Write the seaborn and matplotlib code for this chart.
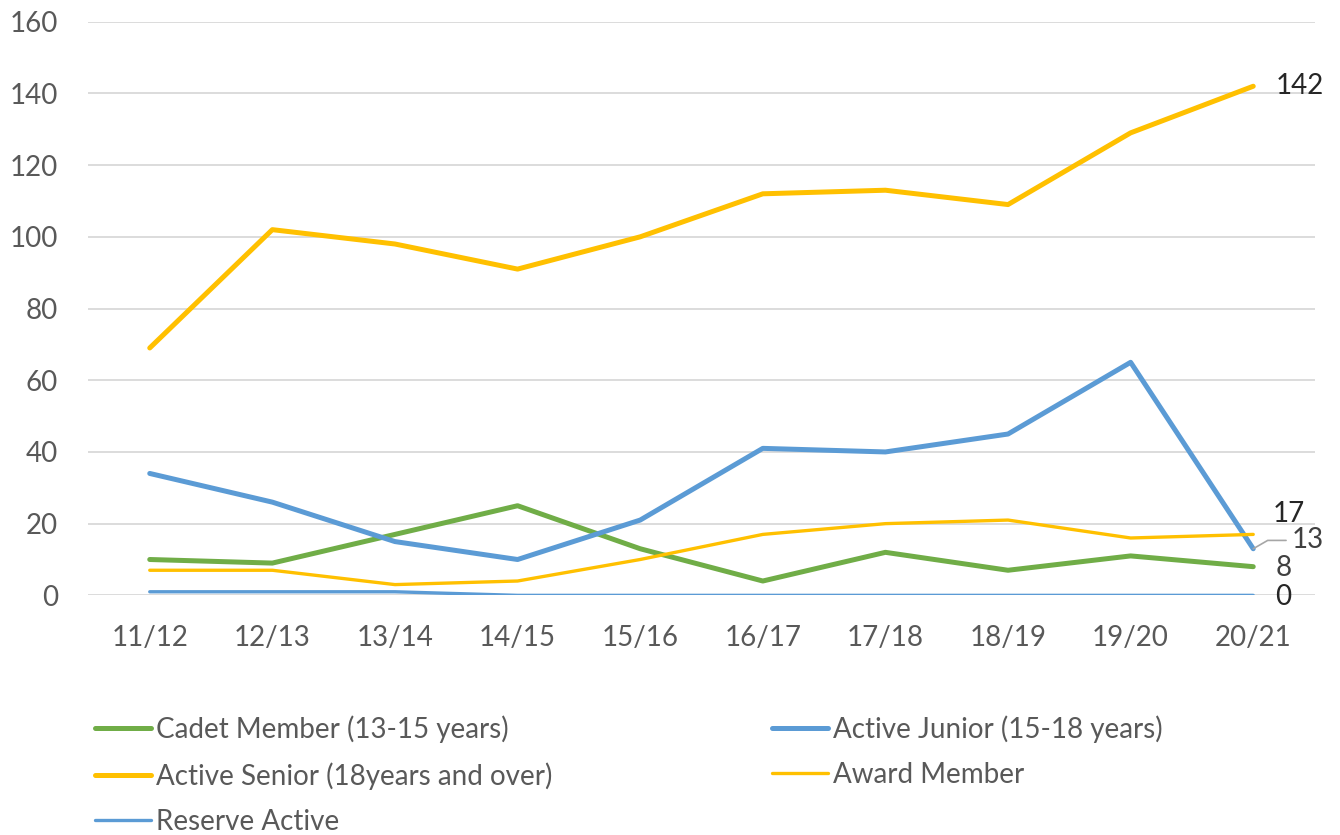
import pandas as pd
import matplotlib
matplotlib.use("Agg")
import matplotlib.pyplot as plt
import seaborn as sns

seasons = ["11/12", "12/13", "13/14", "14/15", "15/16", "16/17", "17/18", "18/19", "19/20", "20/21"]
cadet = [10, 9, 17, 25, 13, 4, 12, 7, 11, 8]
junior = [34, 26, 15, 10, 21, 41, 40, 45, 65, 13]
senior = [69, 102, 98, 91, 100, 112, 113, 109, 129, 142]
award = [7, 7, 3, 4, 10, 17, 20, 21, 16, 17]
reserve = [1, 1, 1, 0, 0, 0, 0, 0, 0, 0]

names = ["Cadet Member (13-15 years)", "Active Junior (15-18 years)",
         "Active Senior (18years and over)", "Award Member", "Reserve Active"]
series = [cadet, junior, senior, award, reserve]
colors = ["#70AD47", "#5B9BD5", "#FFC000", "#FFC000", "#5B9BD5"]
widths = [3.6, 3.6, 3.6, 2.4, 2.4]

sns.set_theme(style="white")
plt.rcParams["font.family"] = ["Lato", "DejaVu Sans"]

fig = plt.figure(figsize=(13.4, 8.35), dpi=100)
ax = fig.add_axes([0.066, 0.287, 0.915, 0.687])

rows = []
for name, vals in zip(names, series):
    for i, v in enumerate(vals):
        rows.append({"series": name, "x": i, "value": v})
df = pd.DataFrame(rows)

handles = {}
for name, col, lw in zip(names, colors, widths):
    sub = df[df["series"] == name]
    sns.lineplot(data=sub, x="x", y="value", color=col, linewidth=lw, ax=ax,
                 label=name, solid_capstyle="round", solid_joinstyle="round")
    handles[name] = ax.lines[-1]
ax.get_legend().remove()

ax.set_xlim(-0.5, 9.5)
ax.set_ylim(0, 160)
ax.set_yticks(range(0, 161, 20))
ax.set_xticks(range(len(seasons)))
ax.set_xticklabels(seasons)
ax.tick_params(axis="both", labelsize=20, labelcolor="#595959", length=0)
ax.tick_params(axis="y", pad=22)
ax.tick_params(axis="x", pad=21)
ax.yaxis.grid(True, color="#D9D9D9", linewidth=1.3)
ax.set_axisbelow(True)
for s in ax.spines.values():
    s.set_visible(False)
ax.set_xlabel("")
ax.set_ylabel("")

# end labels
last = len(seasons) - 1
ax.annotate(str(senior[-1]), (last, senior[-1]), xytext=(16, 0), textcoords="offset points",
            va="center", ha="left", fontsize=20, color="#262626")
ax.annotate(str(award[-1]), (last, award[-1]), xytext=(14, 15), textcoords="offset points",
            va="center", ha="left", fontsize=20, color="#262626")
ax.annotate(str(junior[-1]), (last, junior[-1]), xytext=(28, 6), textcoords="offset points",
            va="center", ha="left", fontsize=20, color="#404040",
            arrowprops=dict(arrowstyle="-", color="#A6A6A6", lw=1.2,
                            connectionstyle="angle,angleA=0,angleB=30,rad=0",
                            shrinkA=2, shrinkB=0))
ax.annotate(str(cadet[-1]), (last, cadet[-1]), xytext=(16, -1), textcoords="offset points",
            va="center", ha="left", fontsize=20, color="#404040")
ax.annotate(str(reserve[-1]), (last, reserve[-1]), xytext=(16, -1), textcoords="offset points",
            va="center", ha="left", fontsize=20, color="#262626")

# legend: row-major order in two columns
order = [names[0], names[2], names[4], names[1], names[3]]
leg = fig.legend([handles[n] for n in order], order, ncol=2, loc="upper left",
                 bbox_to_anchor=(0.071, 0.143), frameon=False, fontsize=20,
                 handlelength=2.0, handletextpad=0.2, columnspacing=7.9,
                 labelspacing=0.68, labelcolor="#595959", borderpad=0,
                 borderaxespad=0)

fig.savefig("out.png", dpi=100, facecolor="white")
